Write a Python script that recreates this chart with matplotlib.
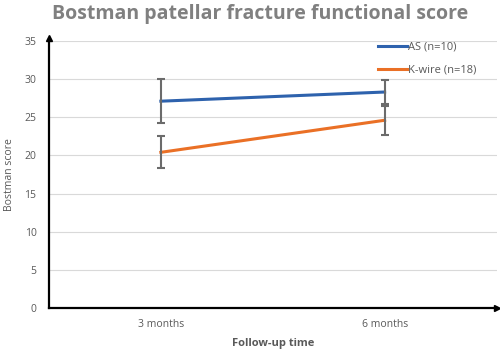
import numpy as np
import matplotlib.pyplot as plt

plt.rcParams['font.family'] = ['Open Sans', 'DejaVu Sans']

# =====================================================
# Data
# =====================================================

timepoints = ["3 months", "6 months"]

as_mean = [27.1, 28.3]
as_err = [2.9, 1.6]

kw_mean = [20.4, 24.6]
kw_err = [2.1, 1.9]

series_labels = ["AS (n=10)", "K-wire (n=18)"]

# =====================================================
# Figure
# =====================================================

fig = plt.figure(figsize=(5.0, 3.51), dpi=100)
ax = fig.add_axes([0.098, 0.1225, 0.895, 0.761])

x = np.arange(len(timepoints))

ax.plot(x, as_mean, color="#2e62ad", lw=2.2, label=series_labels[0], zorder=3)
ax.plot(x, kw_mean, color="#ea7026", lw=2.2, label=series_labels[1], zorder=3)

ax.errorbar(x, as_mean, yerr=as_err, fmt="none", ecolor="#6b6b6b",
            elinewidth=1.5, capsize=3, capthick=1.5, zorder=4)
ax.errorbar(x, kw_mean, yerr=kw_err, fmt="none", ecolor="#6b6b6b",
            elinewidth=1.5, capsize=3, capthick=1.5, zorder=4)

ax.set_xlim(-0.5, 1.5)
ax.set_ylim(0, 35)
ax.set_yticks(np.arange(0, 36, 5))
ax.set_xticks(x)
ax.set_xticklabels(timepoints)

ax.grid(axis="y", color="#d9d9d9", lw=0.8)
ax.set_axisbelow(True)

for s in ["top", "right"]:
    ax.spines[s].set_visible(False)
ax.spines["left"].set_linewidth(1.6)
ax.spines["bottom"].set_linewidth(1.6)

# arrow heads on the axes
ax.plot(0, 1.012, marker="^", color="black", markersize=5,
        transform=ax.transAxes, clip_on=False)
ax.plot(1.0, 0, marker=">", color="black", markersize=5,
        transform=ax.transAxes, clip_on=False)

ax.tick_params(axis="both", length=0, labelsize=7.5, labelcolor="#595959", pad=8)
ax.tick_params(axis="y", pad=9)

ax.set_ylabel("Bostman score", fontsize=7.5, color="#595959", labelpad=7)
ax.set_xlabel("Follow-up time", fontsize=8, color="#595959",
              fontweight="bold", labelpad=6)

fig.suptitle("Bostman patellar fracture functional score", x=0.52, y=0.99,
             fontsize=14, fontweight="bold", color="#808080")

ax.legend(loc="upper left", bbox_to_anchor=(0.713, 1.035), frameon=False,
          fontsize=8, labelcolor="#595959", handlelength=2.6,
          handletextpad=0.1, labelspacing=1.1)

plt.savefig("out.png", dpi=100)
